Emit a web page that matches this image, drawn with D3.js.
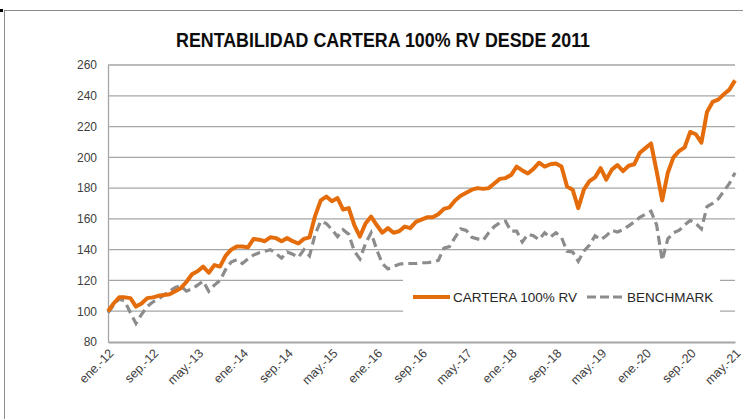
<!DOCTYPE html>
<html><head><meta charset="utf-8">
<script src="https://cdn.jsdelivr.net/npm/d3@7"></script>
<style>body{margin:0;background:#fff}svg{display:block}</style>
</head><body>
<svg id="c" width="743" height="419"></svg>
<script>
const title = "RENTABILIDAD CARTERA 100% RV DESDE 2011";
const monthNames = ["ene.","feb.","mar.","abr.","may.","jun.","jul.","ago.","sep.","oct.","nov.","dic."];
const startYear = 2012;
const nMonths = 113;
const categories = d3.range(nMonths).map(i => monthNames[i % 12] + "-" + String((startYear + Math.floor(i / 12)) % 100).padStart(2, "0"));
const tickLabels = ["ene.-12","sep.-12","may.-13","ene.-14","sep.-14","may.-15","ene.-16","sep.-16","may.-17","ene.-18","sep.-18","may.-19","ene.-20","sep.-20","may.-21"];
const yTicks = [80,100,120,140,160,180,200,220,240,260];
const seriesNames = ["CARTERA 100% RV","BENCHMARK"];
const cartera = [100,105,109,109,108.5,103,105,108.5,109,110,110.5,111,113,115,119,124,126,129,125,130,
129,136,140,142,142,141.5,147,146.5,145.5,148,147.5,145.5,147.5,145.5,144,147,148,162,172,174.5,
171.5,173.5,166,167,156,148.5,157,161.5,156,151,154,151,152,155,154,158,159.5,161,161,163,
166.5,167.5,172,175,177,179,180,179.5,180,183,186,186.5,188.5,194,191.5,189.5,192.5,196.5,194,195.5,
196,194,181,179,167,179,184.5,187,193,185.5,192,195,191,194.5,195.5,203,206,209,191,172,
190,200,204,206.5,216.5,215,209.5,229.5,236,237.5,241,244,250];
const benchmark = [99,104,108,106.5,99,92,98,103,106,108,110.5,113,115.5,116.5,113,114.5,117,119.5,113,117,
120,127,132,133.5,131,134,136.5,138,139,140,137.5,134.5,138.5,137,135,140,136,150,158.5,157,
153,148.5,153,150,139,134,144,151,140,131,127.5,129,130.5,131,131,131,131.5,131.5,132,133,
141,142,148,153.5,152.5,148,147,146,151,155,157.5,158.5,152,152,145,150,149,146.5,151,148,
151,148,139,138.5,132.5,139,143,149,146.5,149,152.5,151.5,153,155.5,158,161,163,165,156,133,
147,151,152.5,156,159,157,153.5,168,170,173,178,183,190];

const svg = d3.select("#c");
const m = {left:108, right:735, top:65, bottom:342};
const font = "'Liberation Sans', Arial, sans-serif";

// chart area border
svg.append("rect").attr("x",4.5).attr("y",10.5).attr("width",760).attr("height",430)
  .attr("fill","#fff").attr("stroke","#8c8c8c").attr("stroke-width",1);
svg.append("rect").attr("x",0).attr("y",9).attr("width",3).attr("height",3).attr("fill","#000");

const x = d3.scalePoint().domain(categories).range([m.left, m.right]);
const y = d3.scaleLinear().domain([80,260]).range([m.bottom, m.top]);

// gridlines
svg.append("g").selectAll("line").data(yTicks.slice(1)).join("line")
  .attr("x1", m.left).attr("x2", m.right)
  .attr("y1", d => y(d)).attr("y2", d => y(d))
  .attr("stroke","#a6a6a6").attr("stroke-width",1.3);

// y axis
const yAxis = svg.append("g").attr("transform",`translate(${m.left},0)`)
  .call(d3.axisLeft(y).tickValues(yTicks).tickSize(0).tickPadding(11));
yAxis.select(".domain").attr("stroke","#a6a6a6").attr("stroke-width",1.3);
yAxis.selectAll("text").attr("font-family",font).attr("font-size","12px").attr("fill","#404040");

// x axis
const xAxis = svg.append("g").attr("transform",`translate(0,${m.bottom})`)
  .call(d3.axisBottom(x).tickValues(tickLabels).tickSize(0).tickPadding(0));
xAxis.select(".domain").attr("stroke","#a6a6a6").attr("stroke-width",1.8);
xAxis.selectAll("text")
  .attr("font-family",font).attr("font-size","12.5px").attr("fill","#404040")
  .attr("text-anchor","end").attr("dy",null).attr("y",0)
  .attr("transform","translate(6,12) rotate(-45)");

// lines
const line = d3.line().x((d,i) => x(categories[i])).y(d => y(d));
svg.append("path").datum(benchmark).attr("d", line)
  .attr("fill","none").attr("stroke","#8c8c8c").attr("stroke-width",3.2)
  .attr("stroke-dasharray","9,5");
svg.append("path").datum(cartera).attr("d", line)
  .attr("fill","none").attr("stroke","#e46c0a").attr("stroke-width",4)
  .attr("stroke-linejoin","round");

// legend
const lg = svg.append("g");
lg.append("rect").attr("x",403).attr("y",267).attr("width",317).attr("height",52).attr("fill","#fff");
lg.append("line").attr("x1",413).attr("x2",450).attr("y1",297).attr("y2",297)
  .attr("stroke","#e46c0a").attr("stroke-width",4);
lg.append("text").attr("x",453).attr("y",302).text(seriesNames[0])
  .attr("font-family",font).attr("font-size","13.5px").attr("fill","#262626");
lg.append("line").attr("x1",587).attr("x2",622).attr("y1",297).attr("y2",297)
  .attr("stroke","#8c8c8c").attr("stroke-width",3.2).attr("stroke-dasharray","9,4");
lg.append("text").attr("x",627).attr("y",302).text(seriesNames[1])
  .attr("font-family",font).attr("font-size","13.5px").attr("fill","#262626");

// title
svg.append("text").attr("x",176).attr("y",47).text(title)
  .attr("font-family",font).attr("font-weight","bold").attr("font-size","19.5px")
  .attr("fill","#0d0d0d").attr("textLength",414).attr("lengthAdjust","spacingAndGlyphs");
</script>
</body></html>
